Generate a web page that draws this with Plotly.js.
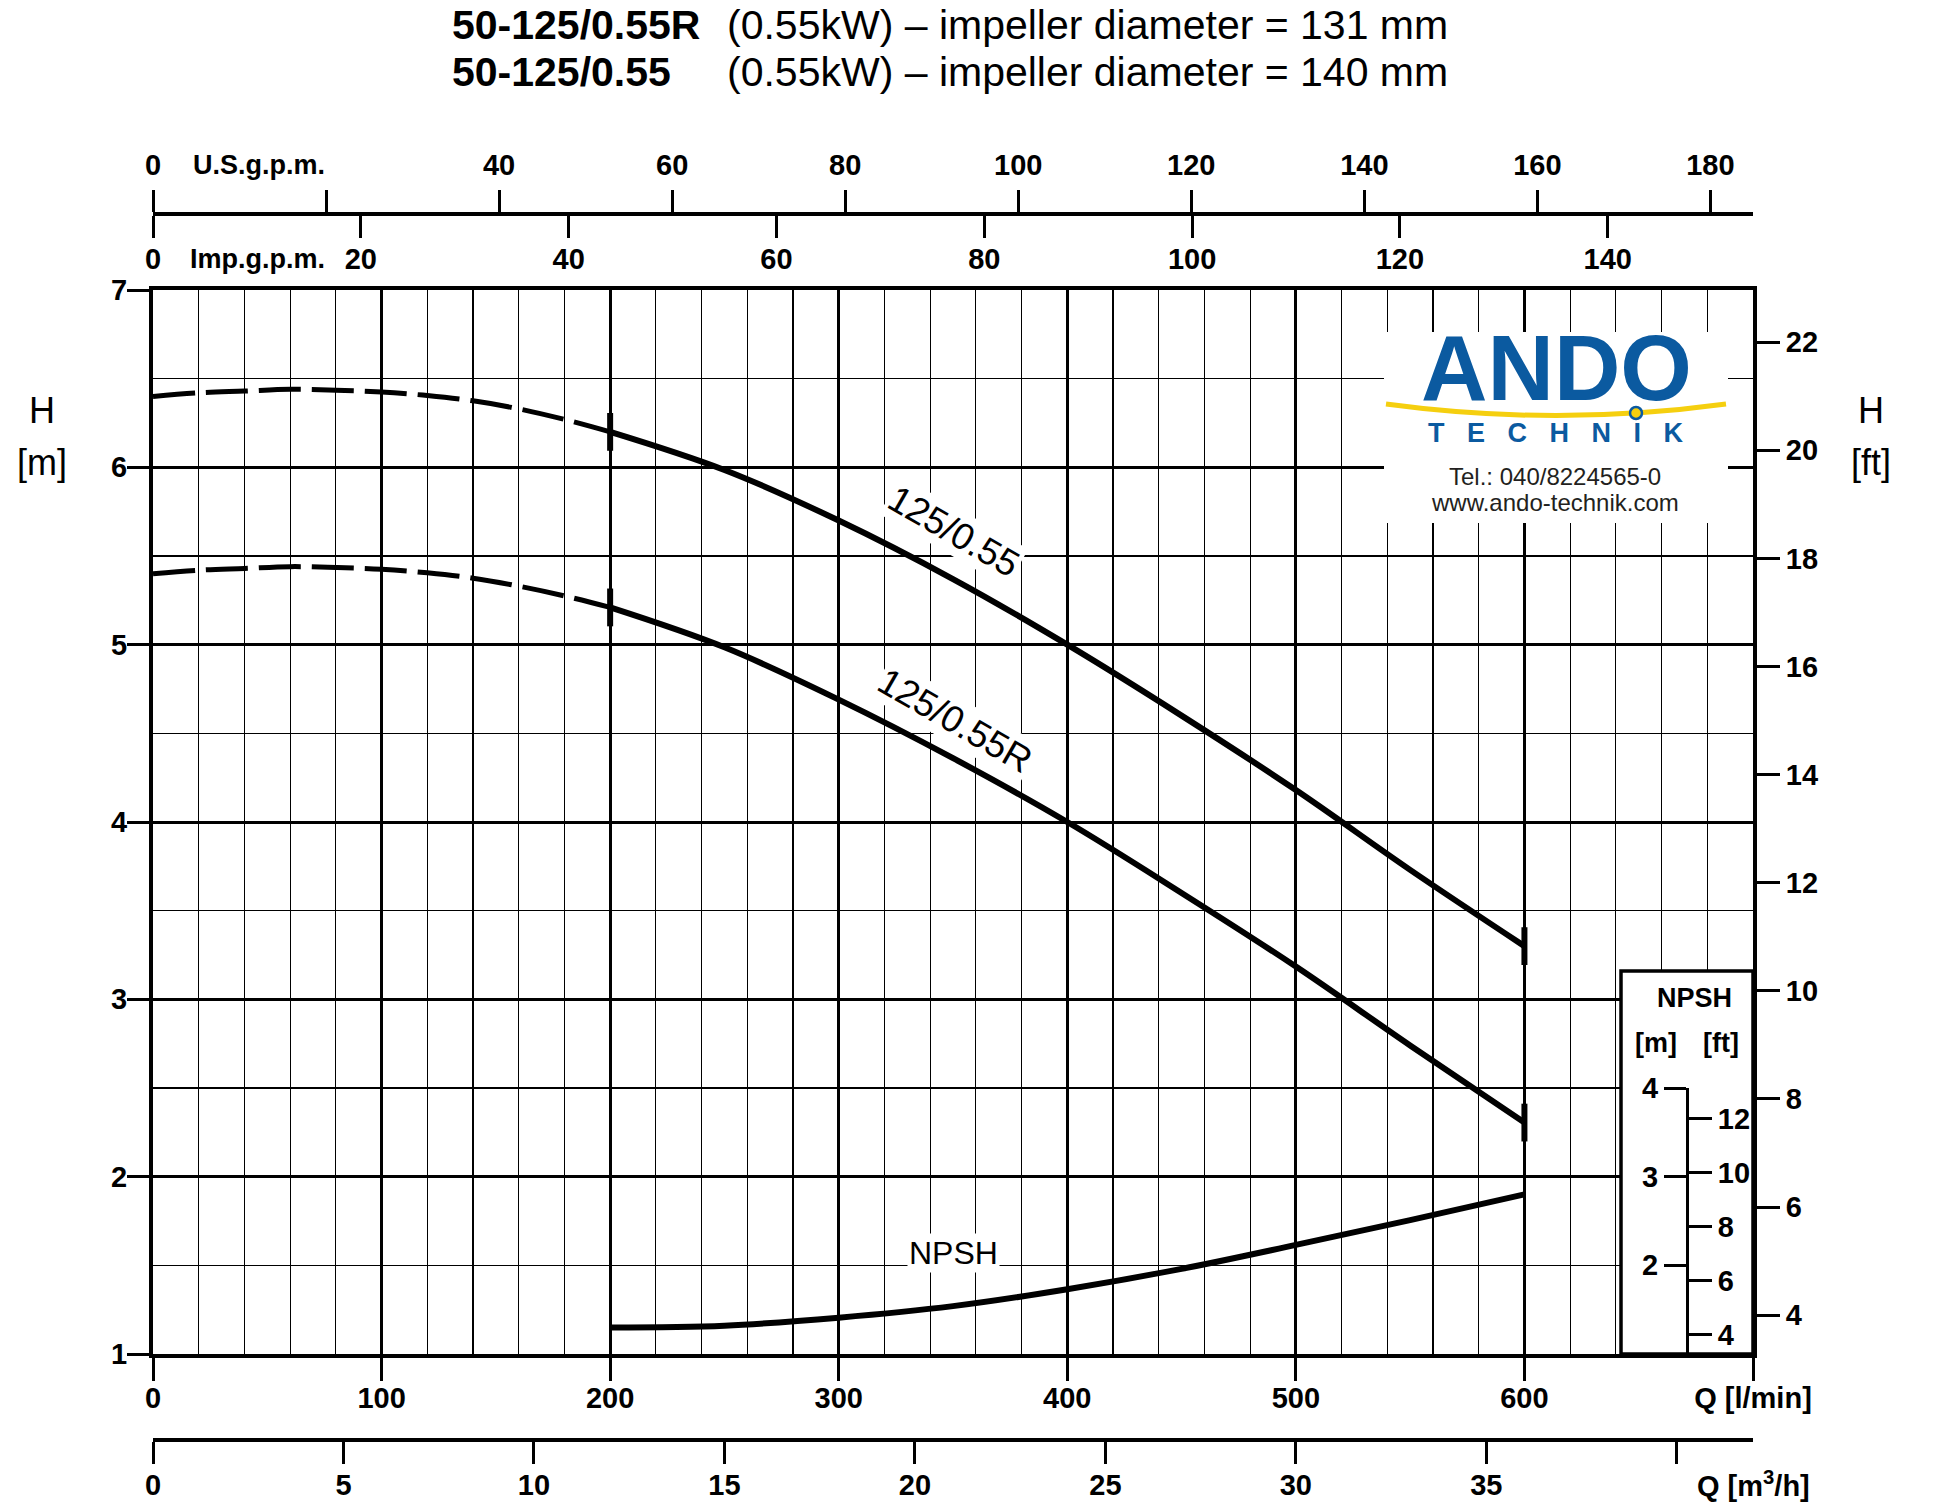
<!DOCTYPE html>
<html><head><meta charset="utf-8">
<script src="https://cdn.plot.ly/plotly-3.0.1.min.js"></script>
<style>html,body{margin:0;padding:0;background:#fff}</style>
</head><body>
<div id="chart" style="width:1952px;height:1510px"></div>
<script>
// ---------------- DATA ----------------
// Flow Q [l/min] and head H [m]
const q_dash = [0, 20, 40, 60, 80, 100, 120, 140, 160, 180, 200];
const h_055_dash  = [6.40, 6.42, 6.43, 6.44, 6.435, 6.425, 6.405, 6.375, 6.33, 6.27, 6.20];
const h_055R_dash = [5.40, 5.42, 5.43, 5.44, 5.435, 5.425, 5.405, 5.375, 5.33, 5.275, 5.21];
const q_solid = [200, 250, 300, 350, 400, 450, 500, 550, 600];
const h_055_solid  = [6.20, 5.985, 5.70, 5.37, 5.00, 4.60, 4.18, 3.73, 3.30];
const h_055R_solid = [5.21, 4.985, 4.69, 4.36, 4.00, 3.60, 3.185, 2.74, 2.305];
const q_npsh = [200, 250, 300, 350, 400, 450, 500, 550, 600];
const npsh_m = [1.30, 1.32, 1.41, 1.54, 1.73, 1.96, 2.23, 2.51, 2.80];

// Tick labels
const q_ticks = [0, 100, 200, 300, 400, 500, 600, 700];
const q_ticktext = ['0', '100', '200', '300', '400', '500', '600', 'Q [l/min]'];
const m3h_ticks = [0, 5, 10, 15, 20, 25, 30, 35, 40];
const m3h_ticktext = ['0', '5', '10', '15', '20', '25', '30', '35', ' '];
const usgpm_ticks = [0, 20, 40, 60, 80, 100, 120, 140, 160, 180];
const usgpm_ticktext = ['0', ' ', '40', '60', '80', '100', '120', '140', '160', '180'];
const impgpm_ticks = [0, 20, 40, 60, 80, 100, 120, 140];
const h_m_ticks = [1, 2, 3, 4, 5, 6, 7];
const h_ft_ticks = [4, 6, 8, 10, 12, 14, 16, 18, 20, 22];
const npsh_m_ticks = [2, 3, 4];
const npsh_ft_ticks = [4, 6, 8, 10, 12];

// Unit conversions
const L_PER_USGAL = 3.785411784, L_PER_IMPGAL = 4.54609, M_PER_FT = 0.3048;
const Q_MAX = 700, H_MIN = 1, H_MAX = 7, NPSH_MAX = 4;

// ---------------- GEOMETRY (pixels) ----------------
const ML = 153, MR = 199, MT = 200, MB = 60;
const PW = 1952 - ML - MR, PH = 1510 - MT - MB;
const PX = x => (x - ML) / PW;              // pixel -> paper x
const PY = y => (1510 - MB - y) / PH;       // pixel -> paper y
const Y_TOP = 290, Y_BOT = 1354;
const pxPerM = (Y_BOT - Y_TOP) / (H_MAX - H_MIN);
const toQ = x => (x - ML) / PW * Q_MAX;
const toH = y => H_MAX - (y - Y_TOP) / pxPerM;

const SANS = '"Liberation Sans", Arial, sans-serif';
const tickFont = {family: SANS, size: 29, color: '#000', weight: 'bold'};
const BLK = '#000';

// ---------------- TRACES ----------------
const traces = [
  {x: q_dash, y: h_055_dash, mode: 'lines', line: {color: BLK, width: 5, dash: '42px,11px', shape: 'spline'}, hoverinfo: 'skip'},
  {x: q_dash, y: h_055R_dash, mode: 'lines', line: {color: BLK, width: 5, dash: '42px,11px', shape: 'spline'}, hoverinfo: 'skip'},
  {x: q_solid, y: h_055_solid, mode: 'lines', line: {color: BLK, width: 6, shape: 'spline'}, hoverinfo: 'skip'},
  {x: q_solid, y: h_055R_solid, mode: 'lines', line: {color: BLK, width: 6, shape: 'spline'}, hoverinfo: 'skip'},
  {x: [q_solid[0], q_solid[q_solid.length - 1]], y: [h_055_solid[0], h_055_solid[h_055_solid.length - 1]],
   mode: 'markers', marker: {symbol: 'line-ns', size: 27, color: BLK, line: {color: BLK, width: 6}}, hoverinfo: 'skip'},
  {x: [q_solid[0], q_solid[q_solid.length - 1]], y: [h_055R_solid[0], h_055R_solid[h_055R_solid.length - 1]],
   mode: 'markers', marker: {symbol: 'line-ns', size: 27, color: BLK, line: {color: BLK, width: 6}}, hoverinfo: 'skip'},
  {x: q_npsh, y: npsh_m, xaxis: 'x5', yaxis: 'y3', mode: 'lines', line: {color: BLK, width: 6, shape: 'spline'}, hoverinfo: 'skip'},
  // empty traces that only bind the secondary scales to a subplot so they are drawn
  {x: [], y: [], xaxis: 'x', yaxis: 'y2', mode: 'lines', hoverinfo: 'skip'},
  {x: [], y: [], xaxis: 'x2', yaxis: 'y', mode: 'lines', hoverinfo: 'skip'},
  {x: [], y: [], xaxis: 'x3', yaxis: 'y', mode: 'lines', hoverinfo: 'skip'},
  {x: [], y: [], xaxis: 'x4', yaxis: 'y', mode: 'lines', hoverinfo: 'skip'},
  {x: [], y: [], xaxis: 'x5', yaxis: 'y4', mode: 'lines', hoverinfo: 'skip'}
];

const mainDomain = [PY(Y_BOT), PY(Y_TOP)];
const npshDomain = [PY(Y_BOT), PY(Y_BOT - (NPSH_MAX - 1) / 2 * pxPerM)];
const topPos = PY(214);
const npshAxisPos = PX(1687);

const axCommon = {ticks: 'outside', tickwidth: 3, tickcolor: BLK, tickfont: tickFont,
  showline: true, linewidth: 4, linecolor: BLK, zeroline: false, tickmode: 'array'};

const layout = {
  width: 1952, height: 1510,
  margin: {l: ML, r: MR, t: MT, b: MB},
  paper_bgcolor: '#fff', plot_bgcolor: 'rgba(0,0,0,0)',
  showlegend: false,
  xaxis: Object.assign({}, axCommon, {
    range: [0, Q_MAX], domain: [0, 1], anchor: 'y',
    tickvals: q_ticks, ticktext: q_ticktext, ticklen: 23, ticklabelstandoff: -8,
    mirror: true, showgrid: true, gridcolor: BLK, gridwidth: 3,
    minor: {tickmode: 'linear', tick0: 0, dtick: 20, showgrid: true, gridcolor: BLK, gridwidth: 1.2, ticks: ''}
  }),
  yaxis: Object.assign({}, axCommon, {
    range: [H_MIN, H_MAX], domain: mainDomain, anchor: 'x',
    tickvals: h_m_ticks, ticklen: 22, ticklabelstandoff: -6,
    mirror: true, showgrid: true, gridcolor: BLK, gridwidth: 3,
    minor: {tickmode: 'linear', tick0: 0, dtick: 0.5, showgrid: true, gridcolor: BLK, gridwidth: 1.2, ticks: ''}
  }),
  yaxis2: Object.assign({}, axCommon, {
    overlaying: 'y', side: 'right', anchor: 'x',
    range: [H_MIN / M_PER_FT, H_MAX / M_PER_FT],
    tickvals: h_ft_ticks, ticklen: 23, showgrid: false
  }),
  xaxis2: Object.assign({}, axCommon, {
    overlaying: 'x', anchor: 'free', position: PY(1440), side: 'bottom',
    range: [0, Q_MAX * 60 / 1000],
    tickvals: m3h_ticks, ticktext: m3h_ticktext, ticklen: 22, ticklabelstandoff: -4, showgrid: false
  }),
  xaxis3: Object.assign({}, axCommon, {
    overlaying: 'x', anchor: 'free', position: topPos, side: 'top',
    range: [0, Q_MAX / L_PER_USGAL],
    tickvals: usgpm_ticks, ticktext: usgpm_ticktext, ticklen: 22, ticklabelstandoff: 3, showgrid: false
  }),
  xaxis4: Object.assign({}, axCommon, {
    overlaying: 'x', anchor: 'free', position: topPos, side: 'bottom',
    range: [0, Q_MAX / L_PER_IMPGAL],
    tickvals: impgpm_ticks, ticklen: 22, ticklabelstandoff: -4, showgrid: false
  }),
  xaxis5: {
    domain: [0, 1], anchor: 'y3', range: [0, Q_MAX], visible: false, showgrid: false, zeroline: false
  },
  yaxis3: Object.assign({}, axCommon, {
    domain: npshDomain, anchor: 'free', position: npshAxisPos, side: 'left',
    range: [1, NPSH_MAX], tickvals: npsh_m_ticks, ticklen: 22, linewidth: 3, showgrid: false
  }),
  yaxis4: Object.assign({}, axCommon, {
    domain: npshDomain, anchor: 'free', position: npshAxisPos, side: 'right', overlaying: 'y3',
    range: [1 / M_PER_FT, NPSH_MAX / M_PER_FT], tickvals: npsh_ft_ticks, ticklen: 23, linewidth: 3, showgrid: false
  }),
  shapes: [
    // white logo panel
    {type: 'rect', xref: 'x', yref: 'y', x0: toQ(1384), x1: toQ(1728), y0: toH(523), y1: toH(332),
     fillcolor: '#fff', line: {width: 0}, layer: 'between'},
    // NPSH scale panel
    {type: 'rect', xref: 'x', yref: 'y', x0: toQ(1621), x1: Q_MAX, y0: H_MIN, y1: toH(971),
     fillcolor: '#fff', line: {color: BLK, width: 3.5}, layer: 'between'},
    // logo swoosh
    {type: 'path', xref: 'paper', yref: 'paper',
     path: `M ${PX(1386)},${PY(404)} Q ${PX(1556)},${PY(427)} ${PX(1726)},${PY(404)}`,
     line: {color: '#F5CF0F', width: 5}, layer: 'above'},
    {type: 'circle', xref: 'paper', yref: 'paper', x0: PX(1630), x1: PX(1642), y0: PY(419), y1: PY(407),
     fillcolor: '#F5CF0F', line: {color: '#0B5AA0', width: 2.5}, layer: 'above'}
  ],
  annotations: []
};

const A = (o) => layout.annotations.push(Object.assign({showarrow: false, xanchor: 'center', yanchor: 'middle'}, o));
const P = (x, y, o) => A(Object.assign({xref: 'paper', yref: 'paper', x: PX(x), y: PY(y)}, o));
// Title
const titleFont = {family: SANS, size: 41, color: BLK};
P(450, 25, {xanchor: 'left', text: '<b>50-125/0.55R</b>', font: titleFont});
P(725, 25, {xanchor: 'left', text: '(0.55kW) – impeller diameter = 131 mm', font: titleFont});
P(450, 72, {xanchor: 'left', text: '<b>50-125/0.55</b>', font: titleFont});
P(725, 72, {xanchor: 'left', text: '(0.55kW) – impeller diameter = 140 mm', font: titleFont});
// Axis titles
const axTitle = {family: SANS, size: 36, color: BLK};
P(42, 410, {text: 'H', font: axTitle});
P(42, 462, {text: '[m]', font: axTitle});
P(1871, 410, {text: 'H', font: axTitle});
P(1871, 462, {text: '[ft]', font: axTitle});
A({xref: 'x2', yref: 'paper', x: Q_MAX * 60 / 1000, y: PY(1484), text: 'Q [m<sup>3</sup>/h]', font: tickFont});
const unitFont = Object.assign({}, tickFont, {size: 27});
P(327, 165, {xanchor: 'right', text: 'U.S.g.p.m.', font: unitFont});
P(327, 259, {xanchor: 'right', text: 'Imp.g.p.m.', font: unitFont});
// Curve labels
const curveFont = {family: SANS, size: 37, color: BLK};
A({xref: 'x', yref: 'y', x: toQ(954), y: toH(531), text: '125/0.55', textangle: 30, font: curveFont, bgcolor: '#fff'});
A({xref: 'x', yref: 'y', x: toQ(955), y: toH(720), text: '125/0.55R', textangle: 30, font: curveFont, bgcolor: '#fff'});
A({xref: 'x', yref: 'y', x: toQ(953), y: toH(1253), text: 'NPSH', font: {family: SANS, size: 32, color: BLK}, bgcolor: '#fff'});
// NPSH panel
const boxFont = {family: SANS, size: 27, color: BLK, weight: 'bold'};
P(1694, 998, {text: 'NPSH', font: boxFont});
P(1656, 1043, {text: '[m]', font: boxFont});
P(1721, 1043, {text: '[ft]', font: boxFont});
// Logo
P(1556, 368, {text: '<b>ANDO</b>', font: {family: SANS, size: 92, color: '#0B5AA0'}});
const nb = '\u00A0\u00A0\u00A0';
P(1556, 433, {text: '<b>' + ['T', 'E', 'C', 'H', 'N', 'I', 'K'].join(nb) + '</b>', font: {family: SANS, size: 27, color: '#0B5AA0'}});
P(1555, 476, {text: 'Tel.: 040/8224565-0', font: {family: SANS, size: 24, color: '#231F20'}});
P(1555, 503, {text: 'www.ando-technik.com', font: {family: SANS, size: 24, color: '#231F20'}});

Plotly.newPlot('chart', traces, layout, {displayModeBar: false, staticPlot: true});
</script>
</body></html>
